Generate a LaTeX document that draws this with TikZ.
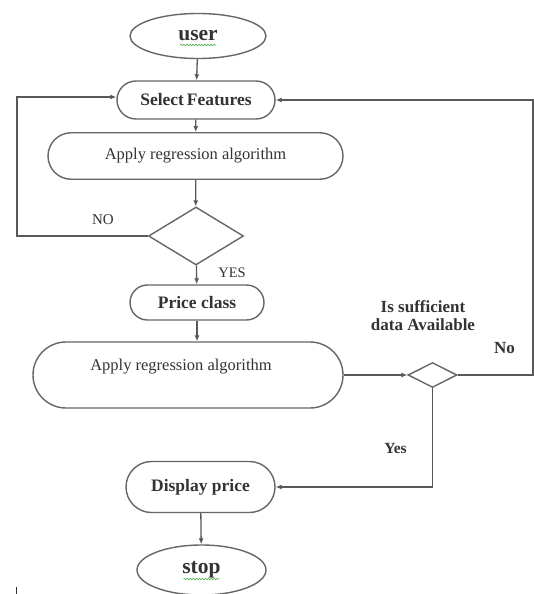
\documentclass[tikz,border=0pt]{standalone}
\usepackage{fontspec}
\setmainfont{Liberation Serif}
\usetikzlibrary{shapes.geometric,shapes.misc,arrows.meta,decorations.pathmorphing}
\begin{document}
\begin{tikzpicture}[x=1pt,y=-1pt,
  shapebox/.style={draw=black!60,line width=1.4pt,inner sep=0pt,text=black!80},
  term/.style={shapebox,ellipse,font=\fontsize{21.5}{24}\selectfont\bfseries},
  stadium/.style={shapebox,rounded rectangle,font=\fontsize{17.5}{20}\selectfont\bfseries},
  procbox/.style={shapebox,rounded rectangle,font=\fontsize{16.5}{19}\selectfont},
  decision/.style={shapebox,diamond},
  conn/.style={draw=black!65,line width=1.3pt},
  arr/.style={conn,-{Latex[length=6pt,width=5pt]}},
  lbl/.style={inner sep=0pt,text=black!80},
  squiggle/.style={draw=green!55!black!70,line width=0.6pt,decorate,decoration={snake,amplitude=0.8pt,segment length=3pt}}]
\useasboundingbox (0,0) rectangle (534,594);
\fill[white] (0,0) rectangle (534,594);

\node[term,minimum width=136pt,minimum height=45pt] (user) at (198,36) {user};
\node[stadium,minimum width=158pt,minimum height=38pt] (sel) at (196,100) {Select\,Features};
\node[procbox,minimum width=295pt,minimum height=46.5pt] (app1) at (195.5,156) {Apply regression algorithm};
\node[decision,minimum width=95pt,minimum height=58pt] (d1) at (196,236) {};
\node[stadium,minimum width=134pt,minimum height=35pt] (price) at (197,302.5) {Price class};
\node[procbox,minimum width=310pt,minimum height=66pt,text depth=21pt] (app2) at (188,375) {\hspace*{-14pt}Apply regression algorithm};
\node[decision,minimum width=49pt,minimum height=25pt] (d2) at (432.5,375) {};
\node[stadium,minimum width=149pt,minimum height=51pt] (disp) at (200.5,487) {Display price};
\node[term,minimum width=129pt,minimum height=50pt] (stop) at (201.5,570) {stop};

\coordinate (lc1) at (17,236);
\coordinate (lc2) at (17,97);
\coordinate (rc1) at (533,375);
\coordinate (rc2) at (533,100);
\coordinate (yc) at (432.5,487);

\draw[arr] (user) -- (sel);
\draw[arr] (sel) -- (app1);
\draw[arr] (app1) -- (d1);
\draw[arr] (d1) -- (price);
\draw[arr] (price.south) -- (price.south |- app2.north);
\draw[arr] (app2.east) -- (d2.west);
\draw[arr] (d1.west) -- (lc1) -- (lc2) -- (sel.west |- lc2);
\draw[arr] (d2.east) -- (rc1) -- (rc2) -- (sel.east);
\draw[arr] (d2.south) -- (yc) -- (disp.east);
\draw[arr] (disp) -- (stop);

\path[squiggle] ([xshift=-18pt,yshift=-9pt]user.center) -- ([xshift=18pt,yshift=-9pt]user.center);
\path[squiggle] ([xshift=-18pt,yshift=-9pt]stop.center) -- ([xshift=18pt,yshift=-9pt]stop.center);

\node[lbl,font=\fontsize{15}{17}\selectfont] (no1) at (103,220) {NO};
\node[lbl,font=\fontsize{14.5}{17}\selectfont] (yes1) at (232,273) {YES};
\node[lbl,font=\fontsize{17}{20}\selectfont\bfseries,align=center] (q) at (423,316) {Is sufficient\\[-2pt]data Available};
\node[lbl,font=\fontsize{17}{20}\selectfont\bfseries] (no2) at (504.5,348) {No};
\node[lbl,font=\fontsize{15.5}{18}\selectfont\bfseries] (yes2) at (395.5,448) {Yes};

\draw[black!80,line width=1.2pt] (16.7,587) -- (16.7,594);
\end{tikzpicture}
\end{document}
